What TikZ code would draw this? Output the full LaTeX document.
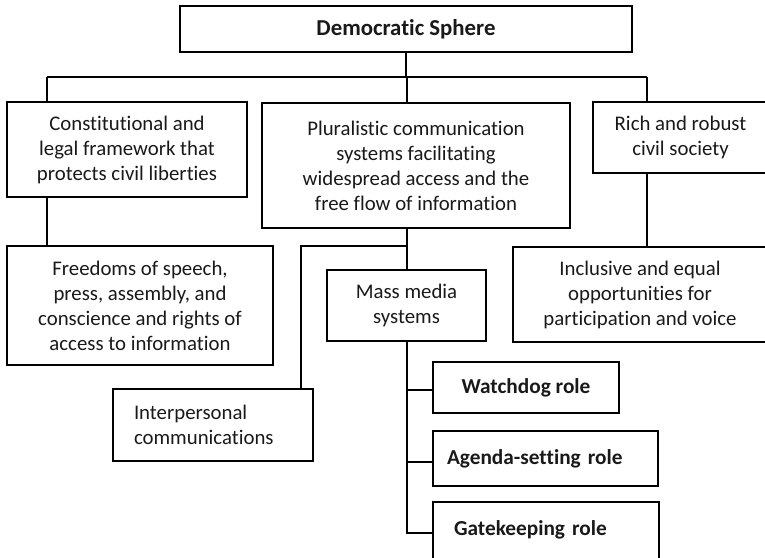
\documentclass[tikz,border=0pt]{standalone}
\usepackage{fontspec}
\setmainfont{Carlito}[Ligatures=NoCommon]
\usetikzlibrary{positioning}

\tikzset{
  box/.style={draw, line width=1.3pt, inner sep=0pt, align=center, text=black!90,
    font=\fontsize{20.8pt}{25pt}\selectfont},
  rolebox/.style={box, font=\fontsize{21.3pt}{25pt}\selectfont\bfseries},
  link/.style={line width=1.3pt}
}

\begin{document}
\begin{tikzpicture}[x=1pt, y=-1pt]
		\useasboundingbox (0,0) rectangle (765,557);
		\clip (0,0) rectangle (765,557);
		\draw (406,29) node[rolebox, minimum width=452, minimum height=46, font=\fontsize{22.8pt}{25pt}\selectfont\bfseries] (dem) {Democratic Sphere}
		(127,149.5) node[box, minimum width=240, minimum height=95] (cons) {Constitutional and\\legal framework that\\protects civil liberties}
		(416,165.5) node[box, minimum width=308, minimum height=125] (plur) {Pluralistic communication\\systems facilitating\\widespread access and the\\free flow of information}
		(680.5,137.5) node[box, minimum width=175, minimum height=71] (rich) {Rich and robust\\civil society}
		(140,305.5) node[box, minimum width=266, minimum height=119] (free) {Freedoms of speech,\\press, assembly, and\\conscience and rights of\\access to information}
		(406.5,305.5) node[box, minimum width=159, minimum height=71] (mass) {Mass media\\systems}
		(640,294.5) node[box, minimum width=254, minimum height=95] (incl) {Inclusive and equal\\opportunities for\\participation and voice}
		(213,425) node[box, minimum width=200, minimum height=72, text width=158, align=left] (inter) {Interpersonal\\communications}
		(526,387.5) node[rolebox, minimum width=186, minimum height=51] (watch) {Watchdog role}
		(545.5,458.5) node[rolebox, minimum width=225, minimum height=55, text width=197, align=left] (agenda) {Agenda-setting role}
		(546,541) node[rolebox, minimum width=226, minimum height=78, text width=184, align=left] (gate) {Gatekeeping role\\\mbox{}};

		% bus and branch points
		\coordinate (busl) at (47,77);
		\coordinate (busm) at (407,77);
		\coordinate (busr) at (647,77);
		\coordinate (fork) at (407,246);
		\coordinate (split) at (301,246);
		\coordinate (j1) at (407,390);
		\coordinate (j2) at (407,462);
		\coordinate (j3) at (407,533);

		\draw[link] (dem.south) -- (dem.south |- busm);
		\draw[link] (busl) -- (busr);
		\draw[link] (busl) -- (busl |- cons.north);
		\draw[link] (busm) -- (busm |- plur.north);
		\draw[link] (busr) -- (busr |- rich.north);
		\draw[link] (busl |- cons.south) -- (busl |- free.north);
		\draw[link] (busr |- rich.south) -- (busr |- incl.north);
		\draw[link] (busm |- plur.south) -- (busm |- mass.north);
		\draw[link] (fork) -- (split) -- (split |- inter.north);
		\draw[link] (busm |- mass.south) -- (j3) -- (j3 -| gate.west);
		\draw[link] (j1) -- (j1 -| watch.west);
		\draw[link] (j2) -- (j2 -| agenda.west);
	\end{tikzpicture}
\end{document}
